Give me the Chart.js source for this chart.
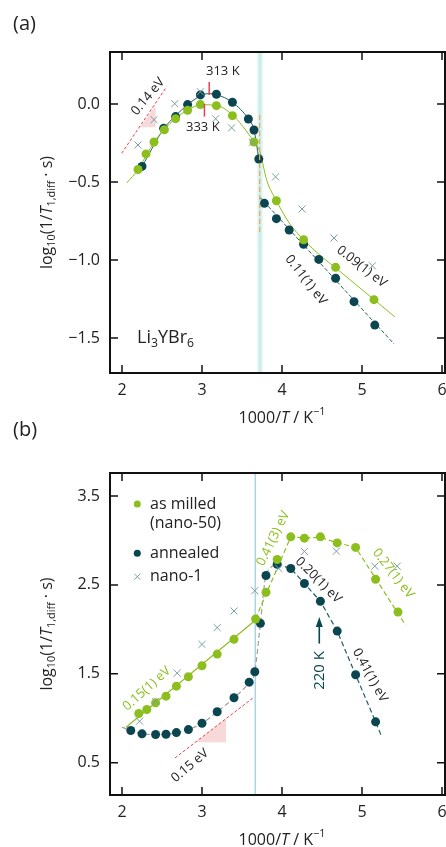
<!DOCTYPE html>
<html>
<head>
<meta charset="utf-8">
<script src="https://cdn.jsdelivr.net/npm/chart.js@4.4.0/dist/chart.umd.min.js"></script>
<style>
  body { margin: 0; background: #fff; }
  #wrap { position: relative; width: 446px; height: 847px; overflow: hidden; }
  canvas { position: absolute; left: 0; }
  #chartA { top: 0; }
  #chartB { top: 400px; }
</style>
</head>
<body>
<div id="wrap">
  <canvas id="chartA" width="446" height="440"></canvas>
  <canvas id="chartB" width="446" height="447"></canvas>
</div>
<script>
// axis ticks
const xTicks = [2, 3, 4, 5, 6];
const yTicksA = [-1.5, -1.0, -0.5, 0.0];
const yTicksB = [0.5, 1.5, 2.5, 3.5];

// (a) Li3YBr6 - measured points
const aMilledX = [2.20, 2.30, 2.40, 2.53, 2.67, 2.82, 2.98, 3.18, 3.38, 3.65, 3.93, 4.27, 4.67, 5.15];
const aMilledY = [-0.42, -0.32, -0.244, -0.165, -0.094, -0.04, -0.004, -0.011, -0.075, -0.244, -0.62, -0.87, -1.047, -1.254];
const aAnnealX = [2.25, 2.52, 2.67, 2.82, 2.98, 3.18, 3.38, 3.58, 3.65, 3.71, 3.78, 3.93, 4.09, 4.27, 4.46, 4.67, 4.90, 5.16];
const aAnnealY = [-0.40, -0.156, -0.081, -0.004, 0.058, 0.062, 0.011, -0.096, -0.167, -0.353, -0.637, -0.735, -0.808, -0.899, -0.996, -1.117, -1.267, -1.417];
const aNanoX = [2.20, 2.40, 2.66, 2.98, 3.17, 3.37, 3.63, 3.92, 4.25, 4.65, 5.13];
const aNanoY = [-0.263, -0.101, 0.002, 0.078, -0.095, -0.153, -0.246, -0.467, -0.673, -0.859, -1.037];

// (a) fit curves
const aMilledFitX = [2.06, 2.2, 2.4, 2.6, 2.8, 3.0, 3.2, 3.4, 3.55, 3.65, 3.72, 3.81, 3.93, 4.1, 4.27, 4.5, 4.67, 5.0, 5.41];
const aMilledFitY = [-0.506, -0.42, -0.245, -0.125, -0.045, -0.005, -0.012, -0.08, -0.17, -0.244, -0.30, -0.49, -0.62, -0.77, -0.87, -0.98, -1.05, -1.19, -1.364];
const aAnnealFitX = [2.2, 2.25, 2.52, 2.67, 2.82, 2.98, 3.08, 3.18, 3.38, 3.58, 3.65, 3.71];
const aAnnealFitY = [-0.44, -0.40, -0.16, -0.075, -0.005, 0.052, 0.066, 0.06, 0.01, -0.096, -0.167, -0.353];
const aHighFitX = [3.725, 5.40];
const aHighFitY = [-0.598, -1.538];
const aSlopeX = [1.996, 2.559];
const aSlopeY = [-0.316, 0.111];
const aTriX = [2.225, 2.421, 2.421];
const aTriY = [-0.15, -0.15, -0.01];

// (b) milled vs annealed - measured points
const bMilledX = [2.21, 2.31, 2.42, 2.55, 2.68, 2.83, 3.00, 3.19, 3.40, 3.67, 3.80, 3.94, 4.11, 4.28, 4.48, 4.69, 4.92, 5.17, 5.45];
const bMilledY = [1.054, 1.099, 1.174, 1.249, 1.361, 1.467, 1.591, 1.722, 1.888, 2.117, 2.418, 2.786, 3.041, 3.026, 3.041, 2.973, 2.922, 2.564, 2.196];
const bAnnealX = [2.11, 2.25, 2.42, 2.55, 2.68, 2.83, 3.00, 3.19, 3.40, 3.59, 3.66, 3.73, 3.80, 3.94, 4.11, 4.28, 4.48, 4.69, 4.92, 5.17];
const bAnnealY = [0.862, 0.825, 0.817, 0.820, 0.839, 0.873, 0.944, 1.073, 1.231, 1.406, 1.524, 2.068, 2.606, 2.733, 2.685, 2.516, 2.316, 1.981, 1.490, 0.960];
const bNanoX = [2.22, 2.42, 2.69, 3.00, 3.19, 3.40, 3.66, 3.96, 4.28, 4.68, 5.16, 5.44];
const bNanoY = [0.967, 1.189, 1.508, 1.831, 2.020, 2.207, 2.435, 2.685, 2.877, 2.880, 2.711, 2.711];

// (b) fit lines
const bLowFitX = [2.05, 3.667];
const bLowFitY = [0.899, 2.102];
const bMilledFitX = [3.667, 4.11, 4.28, 4.48, 4.69, 4.92, 5.546];
const bMilledFitY = [2.117, 3.041, 3.03, 3.035, 2.975, 2.922, 2.046];
const bGreyFitX = [2.0, 2.11, 2.25, 2.42, 2.55, 2.68, 2.83, 3.00, 3.19, 3.40, 3.59, 3.66, 3.73, 3.80, 3.94];
const bGreyFitY = [0.90, 0.862, 0.825, 0.817, 0.820, 0.839, 0.873, 0.944, 1.073, 1.231, 1.406, 1.524, 2.068, 2.606, 2.733];
const bAnnealFitX = [3.94, 4.11, 4.28, 4.48, 4.69, 4.92, 5.17, 5.24];
const bAnnealFitY = [2.733, 2.685, 2.516, 2.316, 1.981, 1.490, 0.960, 0.806];
const bSlopeX = [2.6625, 3.641];
const bSlopeY = [0.554, 1.231];
const bTriX = [2.92, 3.30, 3.30];
const bTriY = [0.73, 0.73, 0.995];

const green = '#8cbf1e';
const teal = '#0b4650';
const crossCol = '#7c9ea1';
const red = '#e8404c';
const FONT = "'Open Sans', 'Noto Sans', sans-serif";

function pts(xs, ys) {
  return xs.map((x, i) => ({ x: x, y: ys[i] }));
}

function dots(xs, ys, color) {
  return { data: pts(xs, ys), showLine: false, pointStyle: 'circle', pointRadius: 4.5,
    pointBackgroundColor: color, pointBorderWidth: 0 };
}
function crosses(xs, ys) {
  return { data: pts(xs, ys), showLine: false, pointStyle: 'crossRot', pointRadius: 5,
    pointBorderColor: crossCol, pointBorderWidth: 1 };
}
function line(xs, ys, color, width, dash, smooth) {
  return { data: pts(xs, ys), showLine: true, pointRadius: 0, borderColor: color,
    borderWidth: width, borderDash: dash || [], cubicInterpolationMode: smooth ? 'monotone' : 'default', fill: false };
}
function tri(xs, ys) {
  return { data: pts(xs, ys), showLine: true, pointRadius: 0, borderWidth: 0,
    backgroundColor: 'rgba(238,170,170,0.45)', fill: 'shape' };
}

// text with sub/superscripts: parts = [[text, style]]
function richText(ctx, parts, x, y, size, rot, align, color) {
  ctx.save();
  ctx.translate(x, y);
  ctx.rotate((rot || 0) * Math.PI / 180);
  ctx.fillStyle = color || '#222';
  ctx.textBaseline = 'middle';
  const fontOf = st => (st === 'i' ? 'italic ' : '') + ((st === 'sub' || st === 'sup') ? size * 0.68 : size) + 'px ' + FONT;
  let w = 0;
  parts.forEach(p => { ctx.font = fontOf(p[1]); w += ctx.measureText(p[0]).width; });
  let cx = align === 'left' ? 0 : -w / 2;
  parts.forEach(p => {
    ctx.font = fontOf(p[1]);
    const dy = p[1] === 'sub' ? size * 0.3 : (p[1] === 'sup' ? -size * 0.38 : 0);
    ctx.textAlign = 'left';
    ctx.fillText(p[0], cx, dy);
    cx += ctx.measureText(p[0]).width;
  });
  ctx.restore();
}

const yTitle = [['log', 'n'], ['10', 'sub'], ['(1/', 'n'], ['T', 'i'], ['1,diff', 'sub'], [' \u00b7 s)', 'n']];
const xTitle = [['1000/', 'n'], ['T', 'i'], [' / K', 'n'], ['\u22121', 'sup']];

function makeDecor(spec) {
  return {
    id: 'decor',
    beforeDatasetsDraw(chart) {
      const { ctx, chartArea: a, scales: { x, y } } = chart;
      ctx.save();
      if (spec.band) {
        const x0 = x.getPixelForValue(spec.band[0]), x1 = x.getPixelForValue(spec.band[1]);
        const g = ctx.createLinearGradient(x0, 0, x1, 0);
        g.addColorStop(0, 'rgba(200,238,232,0.2)');
        g.addColorStop(0.5, 'rgba(170,226,218,0.75)');
        g.addColorStop(1, 'rgba(200,238,232,0.2)');
        ctx.fillStyle = g;
        ctx.fillRect(x0, a.top, x1 - x0, a.bottom - a.top);
      }
      if (spec.guide) {
        const px = x.getPixelForValue(spec.guide);
        ctx.strokeStyle = '#a9d6e0';
        ctx.lineWidth = 1.5;
        ctx.beginPath(); ctx.moveTo(px, a.top); ctx.lineTo(px, a.bottom); ctx.stroke();
      }
      ctx.restore();
    },
    afterDatasetsDraw(chart) {
      const { ctx, chartArea: a, scales: { x, y } } = chart;
      ctx.save();
      (spec.vlines || []).forEach(v => {
        const px = x.getPixelForValue(v.x);
        ctx.strokeStyle = v.color; ctx.lineWidth = v.width; ctx.setLineDash(v.dash || []);
        ctx.beginPath(); ctx.moveTo(px, y.getPixelForValue(v.y0)); ctx.lineTo(px, y.getPixelForValue(v.y1)); ctx.stroke();
      });
      ctx.setLineDash([]);
      if (spec.arrow) {
        const r = spec.arrow;
        const px = x.getPixelForValue(r.x), p0 = y.getPixelForValue(r.y0), p1 = y.getPixelForValue(r.y1);
        ctx.strokeStyle = teal; ctx.fillStyle = teal; ctx.lineWidth = 1.6;
        ctx.beginPath(); ctx.moveTo(px, p0); ctx.lineTo(px, p1 + 6); ctx.stroke();
        ctx.beginPath(); ctx.moveTo(px, p1); ctx.lineTo(px - 3.5, p1 + 10); ctx.lineTo(px + 3.5, p1 + 10); ctx.closePath(); ctx.fill();
      }
      (spec.texts || []).forEach(t => {
        const parts = typeof t.t === 'string' ? [[t.t, 'n']] : t.t;
        richText(ctx, parts, x.getPixelForValue(t.x), y.getPixelForValue(t.y), t.size || 13, t.rot || 0, t.align, t.color);
      });
      // frame and inward ticks
      ctx.strokeStyle = '#111';
      ctx.lineWidth = 1.5;
      ctx.beginPath();
      x.ticks.forEach(t => {
        const px = x.getPixelForValue(t.value);
        ctx.moveTo(px, a.bottom); ctx.lineTo(px, a.bottom - 8);
        ctx.moveTo(px, a.top); ctx.lineTo(px, a.top + 8);
      });
      y.ticks.forEach(t => {
        const py = y.getPixelForValue(t.value);
        ctx.moveTo(a.left, py); ctx.lineTo(a.left + 8, py);
        ctx.moveTo(a.right, py); ctx.lineTo(a.right - 8, py);
      });
      ctx.stroke();
      ctx.lineWidth = 2;
      ctx.strokeRect(a.left, a.top, a.right - a.left, a.bottom - a.top);
      // x tick labels, placed by the x scale
      ctx.font = '16px ' + FONT;
      ctx.fillStyle = '#222';
      ctx.textAlign = 'center';
      ctx.textBaseline = 'middle';
      x.ticks.forEach(t => ctx.fillText(String(t.value), x.getPixelForValue(t.value), a.bottom + 17));
      // titles
      richText(ctx, xTitle, 282, a.bottom + 45, 16, 0, 'center');
      richText(ctx, yTitle, 47, (a.top + a.bottom) / 2, 16, -90, 'center');
      richText(ctx, [[spec.label, 'n']], 13, spec.labelY, 20, 0, 'left');
      if (spec.legend) {
        ctx.font = '16px ' + FONT;
        ctx.textBaseline = 'middle';
        ctx.textAlign = 'left';
        spec.legend.forEach(l => {
          if (l.mark === 'x') {
            ctx.strokeStyle = crossCol; ctx.lineWidth = 1;
            ctx.beginPath();
            ctx.moveTo(l.mx - 3, l.my - 3); ctx.lineTo(l.mx + 3, l.my + 3);
            ctx.moveTo(l.mx + 3, l.my - 3); ctx.lineTo(l.mx - 3, l.my + 3);
            ctx.stroke();
          } else if (l.mark) {
            ctx.fillStyle = l.mark;
            ctx.beginPath(); ctx.arc(l.mx, l.my, 3.5, 0, Math.PI * 2); ctx.fill();
          }
          ctx.fillStyle = '#222';
          ctx.fillText(l.text, 150, l.my);
        });
      }
      ctx.restore();
    }
  };
}

function makeChart(id, datasets, yTicks, yMin, yMax, top, xAxisH, spec) {
  const fmtY = v => v === 0 ? '0.0' : (v < 0 ? '\u2212' : '') + Math.abs(v).toFixed(1);
  return new Chart(document.getElementById(id), {
    type: 'scatter',
    data: { datasets: datasets },
    options: {
      responsive: false,
      animation: false,
      events: [],
      layout: { autoPadding: false, padding: { top: top, right: 1, left: 0, bottom: 0 } },
      plugins: { legend: { display: false }, tooltip: { enabled: false } },
      scales: {
        x: {
          type: 'linear', min: 1.85, max: 6.0375,
          grid: { display: false, drawTicks: false },
          border: { display: false },
          afterBuildTicks: s => { s.ticks = xTicks.map(v => ({ value: v })); },
          afterFit: s => { s.height = xAxisH; s.paddingLeft = 0; s.paddingRight = 0; },
          ticks: { display: false }
        },
        y: {
          type: 'linear', min: yMin, max: yMax,
          grid: { display: false, drawTicks: false },
          border: { display: false },
          afterBuildTicks: s => { s.ticks = yTicks.map(v => ({ value: v })); },
          afterFit: s => { s.width = 110; s.paddingTop = 0; s.paddingBottom = 0; },
          ticks: { padding: 10, color: '#222', font: { family: FONT, size: 16 }, callback: fmtY }
        }
      }
    },
    plugins: [makeDecor(spec)]
  });
}

// panel (a)
makeChart('chartA', [
  crosses(aNanoX, aNanoY),
  dots(aMilledX, aMilledY, green),
  dots(aAnnealX, aAnnealY, teal),
  line(aMilledFitX, aMilledFitY, green, 1, null, true),
  line(aAnnealFitX, aAnnealFitY, '#1f5f68', 1, null, true),
  line(aHighFitX, aHighFitY, '#1f5f68', 1, [4, 2]),
  line(aSlopeX, aSlopeY, red, 1, [3, 2]),
  tri(aTriX, aTriY)
], yTicksA, -1.724, 0.333, 52, 67, {
  label: '(a)', labelY: 24,
  band: [3.683, 3.767],
  vlines: [
    { x: 3.72, y0: -0.07, y1: -0.83, color: '#f2a65a', width: 1.2, dash: [5, 3] },
    { x: 3.09, y0: 0.141, y1: 0.058, color: red, width: 1.5 },
    { x: 3.03, y0: 0.0, y1: -0.081, color: red, width: 1.5 }
  ],
  texts: [
    { x: 3.26, y: 0.212, t: '313 K' },
    { x: 3.01, y: -0.152, t: '333 K' },
    { x: 2.325, y: 0.047, t: '0.14 eV', rot: -50 },
    { x: 4.996, y: -1.043, t: '0.09(1) eV', rot: 38 },
    { x: 4.30, y: -1.128, t: '0.11(1) eV', rot: 52 },
    { x: 2.1875, y: -1.502, t: [['Li', 'n'], ['3', 'sub'], ['YBr', 'n'], ['6', 'sub']], size: 18, align: 'left' }
  ]
});

// panel (b)
makeChart('chartB', [
  crosses(bNanoX, bNanoY),
  dots(bMilledX, bMilledY, green),
  dots(bAnnealX, bAnnealY, teal),
  line(bLowFitX, bLowFitY, green, 1.2),
  line(bMilledFitX, bMilledFitY, green, 1.2, [5, 3]),
  line(bGreyFitX, bGreyFitY, '#a0a0a0', 1.2, [5, 3], true),
  line(bAnnealFitX, bAnnealFitY, '#1f5f68', 1.2, [5, 3]),
  line(bSlopeX, bSlopeY, red, 1, [3, 2]),
  tri(bTriX, bTriY)
], yTicksB, 0.137, 3.759, 73, 52, {
  label: '(b)', labelY: 30,
  guide: 3.666,
  arrow: { x: 4.466, y0: 1.84, y1: 2.14 },
  texts: [
    { x: 2.309, y: 1.332, t: '0.15(1) eV', rot: -42, color: green },
    { x: 2.85, y: 0.467, t: '0.15 eV', rot: -40 },
    { x: 3.891, y: 3.023, t: '0.41(3) eV', rot: -64, color: green },
    { x: 4.454, y: 2.553, t: '0.20(1) eV', rot: 45 },
    { x: 5.391, y: 2.629, t: '0.27(1) eV', rot: 52, color: green },
    { x: 5.10, y: 1.482, t: '0.41(1) eV', rot: 61 },
    { x: 4.466, y: 1.538, t: '220 K', rot: -90, size: 15, color: teal }
  ],
  legend: [
    { mark: green, mx: 137.3, my: 104, text: 'as milled' },
    { mark: null, mx: 137.3, my: 123.3, text: '(nano-50)' },
    { mark: teal, mx: 137.3, my: 153.3, text: 'annealed' },
    { mark: 'x', mx: 137.3, my: 176.7, text: 'nano-1' }
  ]
});
</script>
</body>
</html>
